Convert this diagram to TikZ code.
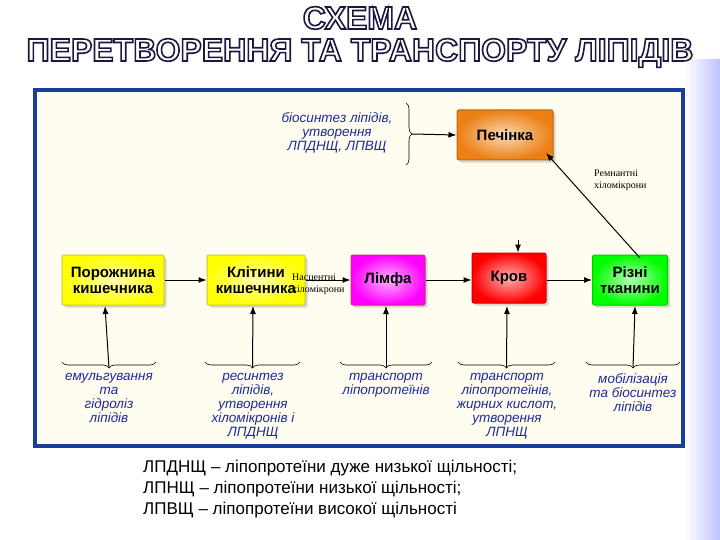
\documentclass[tikz,border=0pt]{standalone}
\usepackage{fontspec}
\setmainfont{Liberation Sans}
\newfontfamily\serifx{Liberation Serif}
\usetikzlibrary{decorations.pathreplacing,arrows.meta,shadows}
\definecolor{frameblue}{HTML}{1A3F9A}
\definecolor{txtblue}{HTML}{1E2A9A}
\begin{document}
\begin{tikzpicture}[x=1pt,y=-1pt,
  box/.style={draw=#1!80!black,line width=1pt,rounded corners=2pt,inner color=#1!30!white,outer color=#1,
     minimum height=50pt,align=center,font=\bfseries\fontsize{15}{16}\selectfont,drop shadow={opacity=0.3}},
  arr/.style={-{Latex[length=8pt,width=6pt]},line width=1pt},
  br/.style={decorate,decoration={brace,amplitude=6pt},line width=0.6pt},
  ann/.style={font=\itshape\fontsize{13.5}{14}\selectfont,text=txtblue,align=center},
  sm/.style={font=\serifx\fontsize{10}{12}\selectfont,align=left,inner sep=0pt},
  ttl/.style={font=\bfseries\fontsize{32}{32}\selectfont,align=center}]
\useasboundingbox (0,0) rectangle (720,540);
\fill[white] (0,0) rectangle (720,540);
\shade[left color=white,right color=blue!25] (685,60) rectangle (720,540);
\node[ttl,text=white] (title) at (360,37) {\special{pdf:code 2 Tr 1.6 w 0.1 0.1 0.25 RG}СХЕМА\\\special{pdf:code 2 Tr 1.6 w 0.1 0.1 0.25 RG}ПЕРЕТВОРЕННЯ ТА ТРАНСПОРТУ ЛІПІДІВ\special{pdf:code 0 Tr}};
\draw[frameblue,line width=4pt,fill={rgb,255:red,255;green,253;blue,240}] (35,90) rectangle (683,446);
\node[box=orange!70!brown,minimum width=96pt] (pech) at (505,135) {Печінка};
\node[box=yellow,minimum width=102pt] (por) at (113,280) {Порожнина\\кишечника};
\node[box=yellow,minimum width=98pt] (kl) at (256,280) {Клітини\\кишечника};
\node[box=magenta,minimum width=74pt] (lim) at (388,280) {Лімфа};
\node[box=red,minimum width=74pt] (krov) at (509,278) {Кров};
\node[box=green,minimum width=75pt] (tk) at (630,280) {Різні\\тканини};
\node[ann] (tbio) at (337,133) {біосинтез ліпідів,\\утворення\\ЛПДНЩ, ЛПВЩ};
\draw[br] (406,103) -- coordinate[midway,xshift=6pt] (bm) (406,165);
\draw[arr] (bm) -- (pech.west);
\draw[arr] (por) -- (kl);
\draw[arr] (kl) -- (lim);
\draw[arr] (lim) -- (krov.west|-lim);
\draw[arr] (krov.east|-tk) -- (tk);
\coordinate (ktop) at (518,240);
\draw[arr] (ktop) -- (krov.north-|ktop);
\draw[line width=1pt,-{Latex[length=8pt,width=6pt]}] (640,258) -- (546,153);
\node[sm,anchor=west] (rem) at (594,180) {Ремнантні\\хіломікрони};
\node[sm,anchor=west] (nas) at (292,284) {Насцентні\\хіломікрони};
\foreach \nm/\a/\b/\bx in {b1/62/156/105, b2/205/300/253, b3/340/432/386, b4/458/555/507, b5/586/680/635}{
  \draw[br,decoration={mirror}] (\a,362) -- coordinate[midway] (\nm) (\b,362);
  \draw[arr] ([yshift=-6pt]\nm) -- (\bx,306);
}
\node[ann,anchor=north] (t1) at (109,370) {емульгування\\та\\гідроліз\\ліпідів};
\node[ann,anchor=north] (t2) at (253,370) {ресинтез\\ліпідів,\\утворення\\хіломікронів і\\ЛПДНЩ};
\node[ann,anchor=north] (t3) at (386,370) {транспорт\\ліпопротеїнів};
\node[ann,anchor=north] (t4) at (507,370) {транспорт\\ліпопротеїнів,\\жирних кислот,\\утворення\\ЛПНЩ};
\node[ann,anchor=north] (t5) at (633,370) {мобілізація\\та біосинтез\\ліпідів};
\node[anchor=north west,align=left,font=\fontsize{17}{21}\selectfont,inner sep=0pt] (leg) at (143,460)
 {ЛПДНЩ – ліпопротеїни дуже низької щільності;\\ЛПНЩ – ліпопротеїни низької щільності;\\ЛПВЩ – ліпопротеїни високої щільності};
\end{tikzpicture}
\end{document}
